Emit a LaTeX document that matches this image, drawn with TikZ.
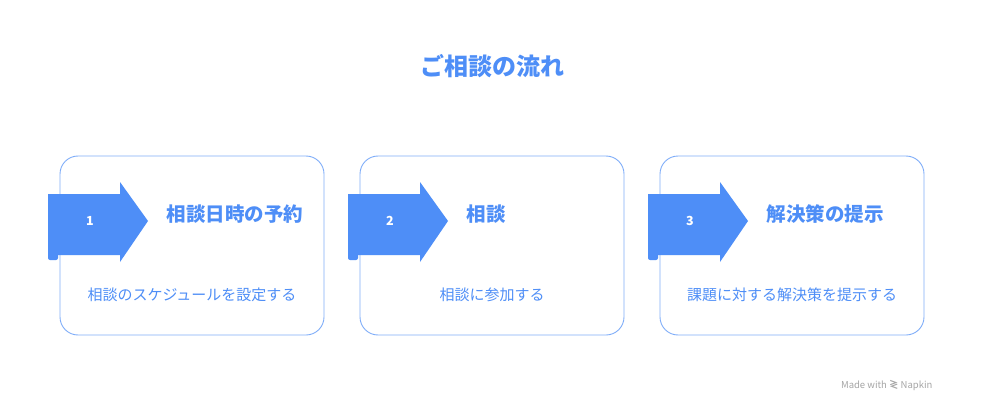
\documentclass[tikz,border=0pt]{standalone}
\usepackage{fontspec}
\setmainfont{Noto Sans CJK JP}
\usetikzlibrary{positioning}
\definecolor{napblue}{HTML}{4E8EF7}
\definecolor{napline}{HTML}{80AEF9}
\tikzset{
	x=1pt, y=-1pt,
	stepbox/.style={draw=napline, line width=0.9pt, rounded corners=18pt},
	steptitle/.style={anchor=west, text=napblue, font=\fontsize{19.5}{22}\selectfont\bfseries},
	stepdesc/.style={text=napblue, font=\fontsize{15}{17}\selectfont},
	stepnum/.style={text=white, font=\fontsize{12.5}{15}\selectfont\bfseries}}

\begin{document}
\begin{tikzpicture}
		\useasboundingbox[fill=white] (0,0) rectangle (984,414);
		
		%Title
		\node[text=napblue, font=\fontsize{24}{28}\selectfont\bfseries] (title) at (492,66) {ご相談の流れ};
		
		%Steps
		\foreach \i/\head/\desc in {0/相談日時の予約/相談のスケジュールを設定する, 1/相談/相談に参加する, 2/解決策の提示/課題に対する解決策を提示する}{
			\begin{scope}[xshift=\i*300]
				\draw[stepbox] (60,156) rectangle (324,335);
				\fill[napblue] (48,194) -- (120,194) -- (120,182) -- (148,221)
					-- (120,262) -- (120,255) -- (48,255) -- cycle;
				\fill[napblue, rounded corners=2pt] (48,253) rectangle (58,260);
				\pgfmathtruncatemacro{\n}{\i+1}
				\node[stepnum] (num\n) at (90,221) {\n};
				\node[steptitle] (head\n) at (163,214) {\head};
				\node[stepdesc] (desc\n) at (192,295) {\desc};
			\end{scope}
		}
		
		%Footer
		\node[anchor=east, text=black!35, font=\fontsize{9.5}{12}\selectfont] (mark) at (936,386) {Made with \textbf{≷} Napkin};
	\end{tikzpicture}
\end{document}
